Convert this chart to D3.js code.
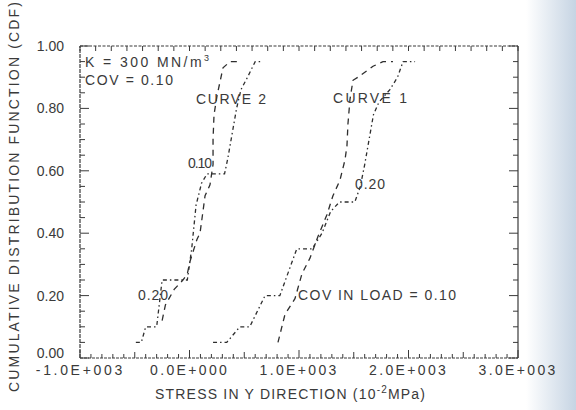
<!DOCTYPE html>
<html>
<head>
<meta charset="utf-8">
<script src="https://cdn.jsdelivr.net/npm/d3@7"></script>
<style>
  body { margin: 0; background: #fff; }
  svg { display: block; }
  text { font-family: "Liberation Sans", Arial, sans-serif; fill: #3a3a3a; }
</style>
</head>
<body>
<div id="chart"></div>
<script>
const W = 576, H = 410;

// tick labels
const xTickValues = [-1000, 0, 1000, 2000, 3000];
const xTickLabels = ["-1.0E+003", "0.0E+000", "1.0E+003", "2.0E+003", "3.0E+003"];
const yTickValues = [0, 0.2, 0.4, 0.6, 0.8, 1.0];
const yTickLabels = ["0.00", "0.20", "0.40", "0.60", "0.80", "1.00"];

// curve 2, COV 0.10 (dashed)
const curve2Cov10Stress = [-250, -220, -140, -60, -20, 5, 68, 96, 123, 142, 187, 215, 215, 224, 251, 306, 370, 443];
const curve2Cov10Cdf    = [0.12, 0.17, 0.22, 0.25, 0.27, 0.31, 0.38, 0.40, 0.47, 0.52, 0.555, 0.62, 0.70, 0.78, 0.84, 0.93, 0.95, 0.95];

// curve 2, COV 0.20 (dash-dot)
const curve2Cov20Stress = [-490, -440, -400, -300, -250, -20, 20, 40, 60, 110, 160, 320, 350, 390, 430, 470, 530, 600, 660];
const curve2Cov20Cdf    = [0.05, 0.05, 0.10, 0.10, 0.25, 0.25, 0.35, 0.42, 0.49, 0.56, 0.59, 0.59, 0.64, 0.72, 0.80, 0.86, 0.90, 0.95, 0.95];

// curve 1, COV 0.10 (dashed)
const curve1Cov10Stress = [808, 872, 963, 1027, 1100, 1174, 1256, 1310, 1374, 1420, 1438, 1447, 1466, 1493, 1539, 1676, 1767, 1858];
const curve1Cov10Cdf    = [0.05, 0.14, 0.19, 0.27, 0.32, 0.39, 0.46, 0.52, 0.57, 0.635, 0.68, 0.75, 0.83, 0.89, 0.90, 0.935, 0.95, 0.95];

// curve 1, COV 0.20 (dash-dot)
const curve1Cov20Stress = [215, 340, 460, 550, 690, 825, 980, 1120, 1210, 1290, 1370, 1510, 1560, 1600, 1640, 1680, 1730, 1830, 1900, 1950, 2060];
const curve1Cov20Cdf    = [0.05, 0.05, 0.10, 0.10, 0.20, 0.20, 0.35, 0.35, 0.40, 0.47, 0.50, 0.50, 0.55, 0.62, 0.70, 0.78, 0.82, 0.86, 0.90, 0.95, 0.95];

const curves = [
  { xs: curve2Cov10Stress, ys: curve2Cov10Cdf, dash: "6,5" },
  { xs: curve2Cov20Stress, ys: curve2Cov20Cdf, dash: "4,3,1.5,3" },
  { xs: curve1Cov10Stress, ys: curve1Cov10Cdf, dash: "6,5" },
  { xs: curve1Cov20Stress, ys: curve1Cov20Cdf, dash: "4,3,1.5,3" }
];

const margin = { left: 80, right: 58, top: 46, bottom: 52 };
const x = d3.scaleLinear().domain([-1000, 3000]).range([margin.left, W - margin.right]);
const y = d3.scaleLinear().domain([0, 1]).range([H - margin.bottom, margin.top]);

const svg = d3.select("#chart").append("svg")
    .attr("width", W)
    .attr("height", H);

// bluish scan edge on the right
const grad = svg.append("defs").append("linearGradient")
    .attr("id", "edge").attr("x1", 0).attr("x2", 1).attr("y1", 0).attr("y2", 0);
grad.append("stop").attr("offset", "0%").attr("stop-color", "#ffffff");
grad.append("stop").attr("offset", "100%").attr("stop-color", "#c6d4e3");
svg.append("rect").attr("x", 526).attr("y", 0).attr("width", 50).attr("height", H)
    .attr("fill", "url(#edge)");

const ink = "#3a3a3a";
const x0 = x.range()[0], x1 = x.range()[1];
const y0 = y.range()[0], y1 = y.range()[1];

// frame
const frame = svg.append("g").attr("stroke", ink).attr("fill", "none").attr("stroke-width", 1.2);
frame.append("line").attr("x1", x0).attr("x2", x1).attr("y1", y1).attr("y2", y1).attr("stroke-dasharray", "3,1.5");
frame.append("line").attr("x1", x0).attr("x2", x1).attr("y1", y0).attr("y2", y0).attr("stroke-dasharray", "3,1");
frame.append("line").attr("x1", x0).attr("x2", x0).attr("y1", y0).attr("y2", y1).attr("stroke-dasharray", "4,1");
frame.append("line").attr("x1", x1).attr("x2", x1).attr("y1", y0).attr("y2", y1);

// ticks
const ticks = svg.append("g").attr("stroke", ink).attr("stroke-width", 1);
const yMinor = d3.range(0, 1.0001, 0.05);
yMinor.forEach(v => {
  const major = Math.abs(v * 5 - Math.round(v * 5)) < 1e-6;
  const len = major ? 9 : 5;
  ticks.append("line").attr("x1", x0).attr("x2", x0 + len).attr("y1", y(v)).attr("y2", y(v));
  ticks.append("line").attr("x1", x1).attr("x2", x1 - len).attr("y1", y(v)).attr("y2", y(v));
});
d3.range(-1000, 3001, 100).forEach(v => {
  const len = v % 1000 === 0 ? 8 : (v % 500 === 0 ? 6 : 4);
  ticks.append("line").attr("x1", x(v)).attr("x2", x(v)).attr("y1", y0).attr("y2", y0 - len);
});
d3.range(0, 29).forEach(i => {
  const v = -1000 + i * 4000 / 28;
  ticks.append("line").attr("x1", x(v)).attr("x2", x(v)).attr("y1", y1).attr("y2", y1 + 5);
});

// tick labels
svg.append("g").selectAll("text")
  .data(xTickValues)
  .join("text")
    .attr("x", d => x(d) - 1)
    .attr("y", 375)
    .attr("text-anchor", "middle")
    .attr("textLength", (d, i) => xTickLabels[i].length * 9.6)
    .attr("lengthAdjust", "spacing")
    .style("font-size", "14px")
    .text((d, i) => xTickLabels[i]);

svg.append("g").selectAll("text")
  .data(yTickValues)
  .join("text")
    .attr("x", 64)
    .attr("y", d => d === 0 ? y(d) : y(d) + 5)
    .attr("text-anchor", "end")
    .style("font-size", "14px")
    .text((d, i) => yTickLabels[i]);

// axis titles
svg.append("text")
    .attr("x", 290).attr("y", 399)
    .attr("text-anchor", "middle")
    .attr("textLength", 270).attr("lengthAdjust", "spacing")
    .style("font-size", "14px")
    .html('STRESS IN Y DIRECTION (10<tspan dy="-6" style="font-size:10px">-2</tspan><tspan dy="6">MPa)</tspan>');

svg.append("text")
    .attr("transform", "translate(19,197) rotate(-90)")
    .attr("text-anchor", "middle")
    .attr("textLength", 390).attr("lengthAdjust", "spacing")
    .style("font-size", "14px")
    .text("CUMULATIVE DISTRIBUTION FUNCTION (CDF)");

// curves
const line = d3.line().x(d => x(d[0])).y(d => y(d[1]));
svg.append("g").selectAll("path")
  .data(curves)
  .join("path")
    .attr("d", c => line(c.xs.map((v, i) => [v, c.ys[i]])))
    .attr("fill", "none")
    .attr("stroke", "#2e2e2e")
    .attr("stroke-width", 1.3)
    .attr("stroke-dasharray", c => c.dash);

// annotations
const notes = [
  { t: 'K = 300 MN/m<tspan dy="-6" style="font-size:9px">3</tspan>', x: 85, y: 67, len: 124 },
  { t: "COV = 0.10", x: 85, y: 85, len: 88 },
  { t: "CURVE 2", x: 196, y: 104, len: 70 },
  { t: "CURVE 1", x: 333, y: 103, len: 74 },
  { t: "0.10", x: 188, y: 168, len: 24 },
  { t: "0.20", x: 138, y: 300, len: 30 },
  { t: "0.20", x: 355, y: 189, len: 30 },
  { t: "COV IN LOAD = 0.10", x: 298, y: 300, len: 158 }
];
svg.append("g").selectAll("text")
  .data(notes)
  .join("text")
    .attr("x", d => d.x)
    .attr("y", d => d.y)
    .attr("textLength", d => d.len)
    .attr("lengthAdjust", "spacing")
    .style("font-size", "14px")
    .html(d => d.t);
</script>
</body>
</html>
